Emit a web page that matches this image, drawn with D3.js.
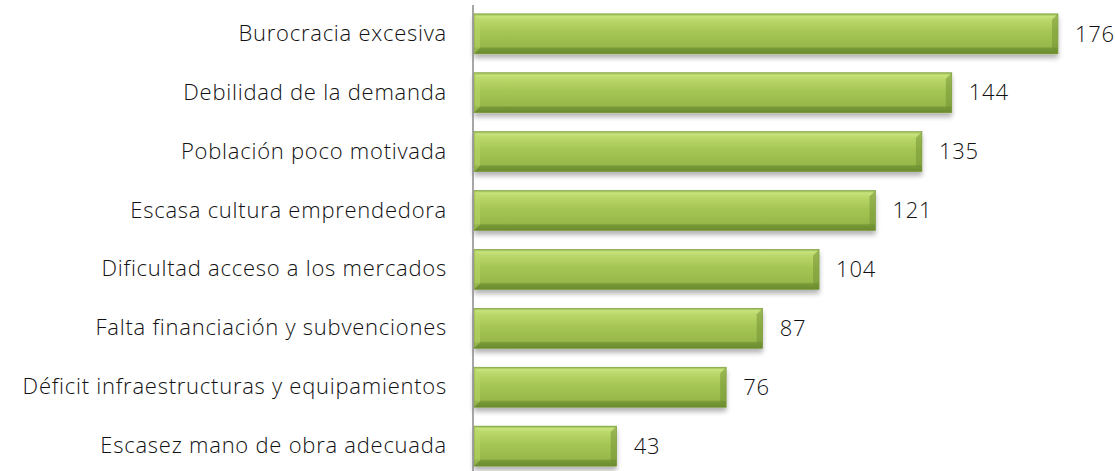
<!DOCTYPE html>
<html>
<head>
<meta charset="utf-8">
<script src="https://cdn.jsdelivr.net/npm/d3@7"></script>
<style>
  body { margin: 0; background: #fff; }
  svg text { font-family: "Open Sans", "DejaVu Sans", sans-serif; font-weight: 300; fill: #111; }
</style>
</head>
<body>
<div id="chart"></div>
<script>
// data
var categories = [
  "Burocracia excesiva",
  "Debilidad de la demanda",
  "Población poco motivada",
  "Escasa cultura emprendedora",
  "Dificultad acceso a los mercados",
  "Falta financiación y subvenciones",
  "Déficit infraestructuras y equipamientos",
  "Escasez mano de obra adecuada"
];
var values = [176, 144, 135, 121, 104, 87, 76, 43];

var width = 1115, height = 471;
var margin = {top: 5, right: 57, bottom: 0, left: 473};
var fontSize = "22px", spacing = "0.75px";

var svg = d3.select("#chart").append("svg")
  .attr("width", width)
  .attr("height", height);

var defs = svg.append("defs");

var grad = defs.append("linearGradient")
  .attr("id", "barGrad")
  .attr("x1", 0).attr("y1", 0).attr("x2", 0).attr("y2", 1);
[[0, "#8db347"], [0.06, "#c8e37e"], [0.14, "#bcd96c"], [0.45, "#a5c553"],
 [0.82, "#98b84c"], [0.86, "#789a37"], [1, "#6a8a2e"]].forEach(function(s) {
  grad.append("stop").attr("offset", s[0]).attr("stop-color", s[1]);
});

var shadow = defs.append("filter").attr("id", "shadow")
  .attr("x", "-5%").attr("y", "-20%").attr("width", "110%").attr("height", "160%");
shadow.append("feGaussianBlur").attr("in", "SourceAlpha").attr("stdDeviation", 2.5);
shadow.append("feOffset").attr("dx", 0).attr("dy", 4).attr("result", "blur");
shadow.append("feComponentTransfer").append("feFuncA").attr("type", "linear").attr("slope", 0.3);
var merge = shadow.append("feMerge");
merge.append("feMergeNode");
merge.append("feMergeNode").attr("in", "SourceGraphic");

var x = d3.scaleLinear()
  .domain([0, 176])
  .range([margin.left + 1, 1058]);

var y = d3.scaleBand()
  .domain(categories)
  .range([margin.top, 475])
  .paddingInner(0.32)
  .paddingOuter(0.15);

var bev = 6;

var bars = svg.selectAll(".bar")
  .data(categories)
  .enter().append("g")
  .attr("class", "bar")
  .attr("filter", "url(#shadow)");

bars.append("rect")
  .attr("x", x(0))
  .attr("y", function(d) { return y(d); })
  .attr("width", function(d, i) { return x(values[i]) - x(0); })
  .attr("height", y.bandwidth())
  .attr("fill", "url(#barGrad)");

// left bevel (light) and right bevel (dark)
bars.append("path")
  .attr("d", function(d) {
    var x0 = x(0), y0 = y(d), h = y.bandwidth();
    return "M" + x0 + "," + y0 + "L" + (x0 + bev) + "," + (y0 + bev) +
      "L" + (x0 + bev) + "," + (y0 + h - bev) + "L" + x0 + "," + (y0 + h) + "Z";
  })
  .attr("fill", "#b9d768")
  .attr("opacity", 0.5);

bars.append("path")
  .attr("d", function(d, i) {
    var x1 = x(values[i]), y0 = y(d), h = y.bandwidth();
    return "M" + x1 + "," + y0 + "L" + (x1 - bev) + "," + (y0 + bev) +
      "L" + (x1 - bev) + "," + (y0 + h - bev) + "L" + x1 + "," + (y0 + h) + "Z";
  })
  .attr("fill", "#6f8f33")
  .attr("opacity", 0.5);

bars.append("rect")
  .attr("x", x(0))
  .attr("y", function(d) { return y(d); })
  .attr("width", function(d, i) { return x(values[i]) - x(0); })
  .attr("height", y.bandwidth())
  .attr("fill", "none")
  .attr("stroke", "#7c9c3c")
  .attr("stroke-width", 0.6);

// value labels
svg.selectAll(".val")
  .data(categories)
  .enter().append("text")
  .attr("class", "val")
  .attr("x", function(d, i) { return x(values[i]) + 17; })
  .attr("y", function(d) { return y(d) + y.bandwidth() / 2; })
  .attr("dy", "0.35em")
  .style("font-size", fontSize)
  .style("letter-spacing", spacing)
  .text(function(d, i) { return values[i]; });

// category axis
var axis = svg.append("g")
  .attr("transform", "translate(" + margin.left + ",0)")
  .call(d3.axisLeft(y).tickSize(0).tickPadding(26));
axis.select(".domain").attr("stroke", "#888").attr("stroke-width", 1.5)
  .attr("d", "M0," + margin.top + "V471");
axis.selectAll("text")
  .style("font-size", fontSize)
  .style("letter-spacing", spacing)
  .style("font-family", "'Open Sans', sans-serif")
  .style("font-weight", 300)
  .attr("fill", "#111");
</script>
</body>
</html>
